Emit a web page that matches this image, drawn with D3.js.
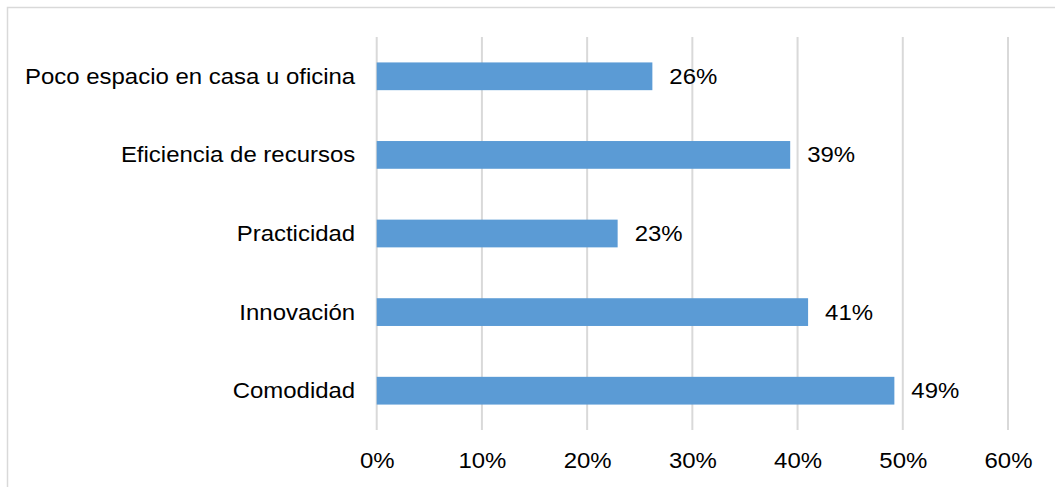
<!DOCTYPE html>
<html>
<head>
<meta charset="utf-8">
<script src="https://cdn.jsdelivr.net/npm/d3@7"></script>
<style>
  html, body { margin: 0; padding: 0; background: #fff; }
  svg { display: block; }
  text { font-family: "Liberation Sans", Arial, sans-serif; fill: #000; }
</style>
</head>
<body>
<svg id="chart" width="1055" height="487"></svg>
<script>
const categories = ["Poco espacio en casa u oficina", "Eficiencia de recursos", "Practicidad", "Innovación", "Comodidad"];
const values = [26.2, 39.3, 22.9, 41.0, 49.2];
const valueLabels = ["26%", "39%", "23%", "41%", "49%"];
const tickValues = [0, 10, 20, 30, 40, 50, 60];
const tickLabels = ["0%", "10%", "20%", "30%", "40%", "50%", "60%"];

const W = 1055, H = 487;
const margin = { left: 376.7, right: 47, top: 37, bottom: 57 };
const FS = "21.5px", SX = 1.115;
const svg = d3.select("#chart");

// outer frame
svg.append("rect")
  .attr("x", 7.5).attr("y", 7.5)
  .attr("width", W + 10).attr("height", H + 10)
  .attr("fill", "none").attr("stroke", "#d9d9d9").attr("stroke-width", 1.5);

const x = d3.scaleLinear().domain([0, 60]).range([margin.left, W - margin.right]);
const y = d3.scaleBand().domain(categories).range([margin.top, H - margin.bottom]).paddingInner(0.647).paddingOuter(0.3235);

// gridlines
svg.append("g").selectAll("line").data(tickValues).join("line")
  .attr("x1", d => x(d)).attr("x2", d => x(d))
  .attr("y1", margin.top).attr("y2", H - margin.bottom)
  .attr("stroke", "#d9d9d9").attr("stroke-width", 2);

// x axis tick labels
const xAxis = d3.axisBottom(x).tickValues(tickValues)
  .tickFormat((d, i) => tickLabels[i]).tickSize(0).tickPadding(0);
const gx = svg.append("g").attr("transform", `translate(0, ${H - margin.bottom})`).call(xAxis);
gx.select(".domain").remove();
gx.selectAll("text")
  .attr("x", 0).attr("y", 0).attr("dy", 0)
  .attr("transform", `translate(0, 38) scale(${SX}, 1)`)
  .style("font-size", FS).style("font-family", "'Liberation Sans', Arial, sans-serif").attr("fill", "#000");

// y axis labels
const yAxis = d3.axisLeft(y).tickSize(0).tickPadding(21);
const gy = svg.append("g").attr("transform", `translate(${margin.left}, 0)`).call(yAxis);
gy.select(".domain").remove();
gy.selectAll("text")
  .attr("x", 0).attr("dy", "0.35em")
  .attr("transform", `translate(-21.5, 0) scale(${SX}, 1)`)
  .style("font-size", FS).style("font-family", "'Liberation Sans', Arial, sans-serif").attr("fill", "#000");

// bars
svg.append("g").selectAll("rect").data(categories).join("rect")
  .attr("x", x(0))
  .attr("y", d => y(d))
  .attr("width", (d, i) => x(values[i]) - x(0))
  .attr("height", y.bandwidth())
  .attr("fill", "#5b9bd5");

// value labels
svg.append("g").selectAll("text").data(categories).join("text")
  .attr("transform", (d, i) => `translate(${x(values[i]) + 17}, ${y(d) + y.bandwidth() / 2}) scale(${SX}, 1)`)
  .attr("dy", "0.35em")
  .style("font-size", FS)
  .text((d, i) => valueLabels[i]);
</script>
</body>
</html>
